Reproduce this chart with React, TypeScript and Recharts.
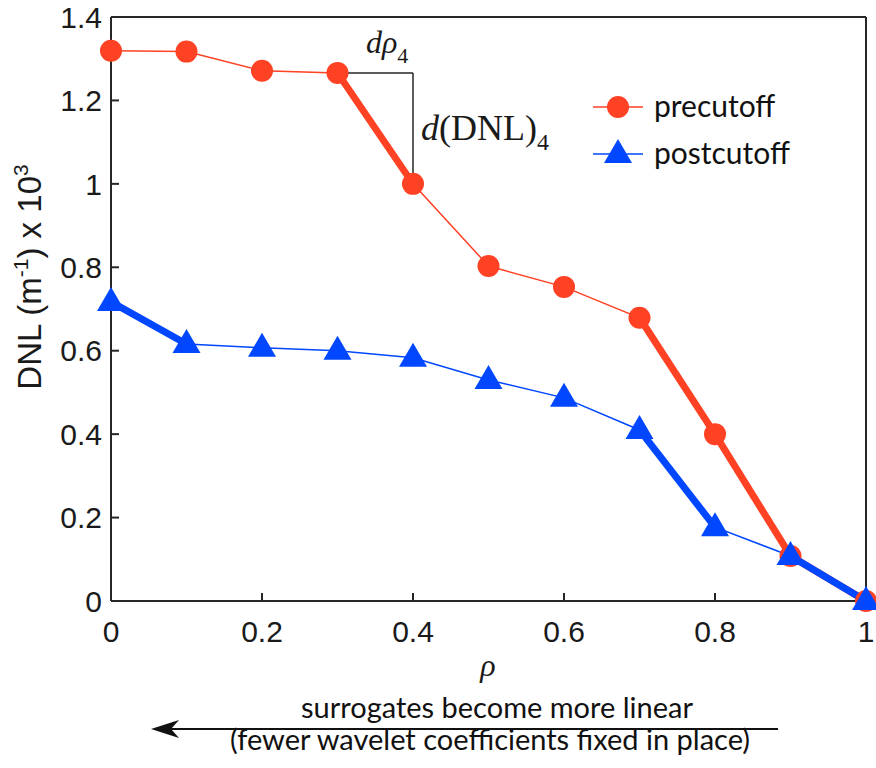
import { LineChart, Line, XAxis, YAxis, ReferenceLine, Legend } from 'recharts';

const rho = [0, 0.1, 0.2, 0.3, 0.4, 0.5, 0.6, 0.7, 0.8, 0.9, 1];
const precutoff = [1.319, 1.317, 1.271, 1.266, 1.0, 0.803, 0.753, 0.679, 0.4, 0.108, 0];
const postcutoff = [0.717, 0.616, 0.607, 0.6, 0.583, 0.53, 0.487, 0.41, 0.177, 0.108, 0];

// segments drawn heavy, as [from, to] indices into rho
const preThick = [[3, 4], [7, 8], [8, 9], [9, 10]];
const postThick = [[0, 1], [7, 8], [9, 10]];

const xTicks = [0, 0.2, 0.4, 0.6, 0.8, 1];
const yTicks = [0, 0.2, 0.4, 0.6, 0.8, 1, 1.2, 1.4];

const RED = '#ff4124';
const BLUE = '#0047ff';
const AXIS = '#262626';
const SANS = '"Liberation Sans", Arial, sans-serif';
const HUMANIST = 'Lato, "Open Sans", sans-serif';
const SERIF = '"Liberation Serif", "Times New Roman", serif';

const data = rho.map((r, i) => {
  const row: Record<string, number | null> = { rho: r, pre: precutoff[i], post: postcutoff[i] };
  preThick.forEach(([a, b], k) => {
    row[`preSeg${k}`] = i === a || i === b ? precutoff[i] : null;
  });
  postThick.forEach(([a, b], k) => {
    row[`postSeg${k}`] = i === a || i === b ? postcutoff[i] : null;
  });
  return row;
});

const Triangle = (props: any) => {
  const { cx, cy } = props;
  if (cx == null || cy == null) return null;
  return <path d={`M${cx},${cy - 15} L${cx + 14},${cy + 9} L${cx - 14},${cy + 9} Z`} fill={BLUE} />;
};

const Circle = (props: any) => {
  const { cx, cy } = props;
  if (cx == null || cy == null) return null;
  return <circle cx={cx} cy={cy} r={11} fill={RED} />;
};

const LegendBox = () => (
  <svg width={230} height={100}>
    <line x1={8} x2={58} y1={20} y2={20} stroke={RED} strokeWidth={1.5} />
    <circle cx={33} cy={20} r={11} fill={RED} />
    <text x={69} y={30} fontFamily={HUMANIST} fontSize={30} fill="#111">precutoff</text>
    <line x1={8} x2={58} y1={67} y2={67} stroke={BLUE} strokeWidth={1.5} />
    <path d="M33,52 L47,76 L19,76 Z" fill={BLUE} />
    <text x={69} y={77} fontFamily={HUMANIST} fontSize={30} fill="#111">postcutoff</text>
  </svg>
);

export default function App() {
  return (
    <div style={{ position: 'absolute', left: 0, top: 0, width: 876, height: 768, background: '#fff' }}>
      <LineChart
        width={876}
        height={768}
        data={data}
        margin={{ top: 17, right: 10, left: 51, bottom: 127 }}
      >
        <XAxis
          dataKey="rho"
          type="number"
          domain={[0, 1]}
          ticks={xTicks}
          height={40}
          tickSize={-8}
          tickMargin={28}
          stroke={AXIS}
          strokeWidth={2}
          tick={{ fill: '#1a1a1a', fontSize: 30, fontFamily: SANS }}
        />
        <XAxis
          xAxisId="top"
          dataKey="rho"
          type="number"
          domain={[0, 1]}
          ticks={xTicks}
          orientation="top"
          mirror
          tick={false}
          tickSize={8}
          stroke={AXIS}
          strokeWidth={2}
        />
        <YAxis
          type="number"
          domain={[0, 1.4]}
          ticks={yTicks}
          width={60}
          tickSize={-8}
          tickMargin={17}
          stroke={AXIS}
          strokeWidth={2}
          tick={{ fill: '#1a1a1a', fontSize: 30, fontFamily: SANS }}
        />
        <YAxis
          yAxisId="right"
          type="number"
          domain={[0, 1.4]}
          ticks={yTicks}
          orientation="right"
          mirror
          tick={false}
          tickSize={8}
          stroke={AXIS}
          strokeWidth={2}
        />

        {/* slope triangle on the 0.3 -> 0.4 drop */}
        <ReferenceLine
          segment={[{ x: rho[3], y: precutoff[3] }, { x: rho[4], y: precutoff[3] }]}
          stroke={AXIS}
          strokeWidth={1.5}
          ifOverflow="visible"
        />
        <ReferenceLine
          segment={[{ x: rho[4], y: precutoff[3] }, { x: rho[4], y: precutoff[4] }]}
          stroke={AXIS}
          strokeWidth={1.5}
          ifOverflow="visible"
        />

        <Line dataKey="pre" stroke={RED} strokeWidth={1.5} dot={false} isAnimationActive={false} legendType="none" />
        {preThick.map((_, k) => (
          <Line
            key={`pre${k}`}
            dataKey={`preSeg${k}`}
            stroke={RED}
            strokeWidth={7}
            dot={false}
            activeDot={false}
            connectNulls={false}
            isAnimationActive={false}
            legendType="none"
          />
        ))}
        <Line dataKey="pre" stroke="none" dot={<Circle />} isAnimationActive={false} legendType="none" />

        <Line dataKey="post" stroke={BLUE} strokeWidth={1.5} dot={false} isAnimationActive={false} legendType="none" />
        {postThick.map((_, k) => (
          <Line
            key={`post${k}`}
            dataKey={`postSeg${k}`}
            stroke={BLUE}
            strokeWidth={7}
            dot={false}
            activeDot={false}
            connectNulls={false}
            isAnimationActive={false}
            legendType="none"
          />
        ))}
        <Line dataKey="post" stroke="none" dot={<Triangle />} isAnimationActive={false} legendType="none" />

        <Legend
          layout="vertical"
          align="center"
          verticalAlign="middle"
          content={<LegendBox />}
          wrapperStyle={{ left: 585, top: 87, width: 230, height: 100 }}
        />
      </LineChart>

      {/* axis labels, annotations and the direction arrow */}
      <svg
        width={876}
        height={768}
        style={{ position: 'absolute', left: 0, top: 0, pointerEvents: 'none' }}
      >
        <text
          transform="translate(41,277) rotate(-90)"
          textAnchor="middle"
          fontFamily={SANS}
          fontSize={33}
          fill="#1a1a1a"
        >
          DNL (m<tspan dy={-13} fontSize={21}>-1</tspan>
          <tspan dy={13}>) x 10</tspan>
          <tspan dy={-13} fontSize={21}>3</tspan>
        </text>
        <text x={488} y={676} textAnchor="middle" fontFamily={SERIF} fontStyle="italic" fontSize={32} fill="#1a1a1a">
          ρ
        </text>

        <text x={366} y={53} fontFamily={SERIF} fontSize={32} fill="#1a1a1a">
          <tspan fontStyle="italic">dρ</tspan>
          <tspan dy={10} fontSize={22}>4</tspan>
        </text>
        <text x={421} y={140} fontFamily={SERIF} fontSize={36} fill="#1a1a1a">
          <tspan fontStyle="italic">d</tspan>
          <tspan>(DNL)</tspan>
          <tspan dy={10} fontSize={24}>4</tspan>
        </text>

        <text x={497} y={718} textAnchor="middle" fontFamily={HUMANIST} fontSize={29} fill="#111">
          surrogates become more linear
        </text>
        <line x1={165} x2={778} y1={729} y2={729} stroke="#111" strokeWidth={2} />
        <path d="M151,729 L179,720 L171,729 L179,738 Z" fill="#111" />
        <text x={490} y={750} textAnchor="middle" fontFamily={HUMANIST} fontSize={29} fill="#111">
          (fewer wavelet coefficients fixed in place)
        </text>
      </svg>
    </div>
  );
}
